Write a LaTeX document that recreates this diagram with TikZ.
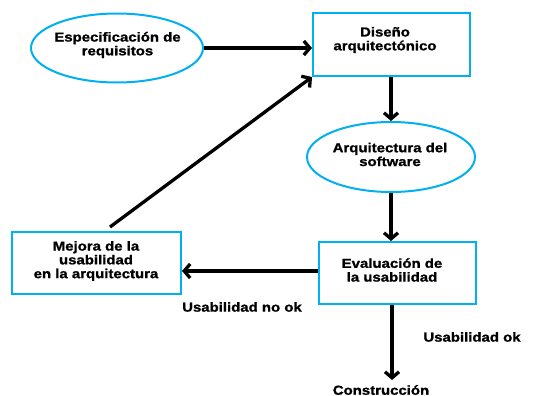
\documentclass[tikz,border=0pt]{standalone}
\usepackage{fontspec}
\setmainfont{Liberation Sans}[FakeStretch=1.15,FakeBold=1.2]
\usetikzlibrary{shapes.geometric,arrows.meta}
\definecolor{frame}{RGB}{0,176,240}
\tikzset{
  shapeline/.style={draw=frame, line width=2pt, inner sep=0pt},
  oval/.style={shapeline, ellipse},
  box/.style={shapeline, rectangle},
  txt/.style={align=center, inner sep=0pt, font=\fontsize{13}{13.8}\selectfont\bfseries},
  flow/.style={line width=3.3pt, -{Straight Barb[length=6pt,width=14pt]}},
}
\begin{document}
\begin{tikzpicture}[x=1pt, y=-1pt]
  \useasboundingbox[fill=white] (0,0) rectangle (546,396);

  % shapes
  \node[oval, minimum width=172pt, minimum height=69pt] (spec) at (117,48) {};
  \node[box, minimum width=157pt, minimum height=63pt] (dis) at (391.5,44.5) {};
  \node[oval, minimum width=168pt, minimum height=70pt] (arq) at (391,157) {};
  \node[box, minimum width=157pt, minimum height=62pt] (eval) at (397.5,273) {};
  \node[box, minimum width=169pt, minimum height=62pt] (mej) at (96.5,263) {};

  % texts
  \node[txt] (specT) at (117.5,45) {Especificación de\\requisitos};
  \node[txt] (disT) at (385,40) {Diseño\\arquitectónico};
  \node[txt] (arqT) at (390,154.5) {Arquitectura del\\software};
  \node[txt] (evalT) at (392,270) {Evaluación de\\la usabilidad};
  \node[txt] (mejT) at (96,261) {Mejora de la\\usabilidad\\en la arquitectura};
  \node[txt] (nook) at (242,307) {Usabilidad no ok};
  \node[txt] (ok) at (472,337) {Usabilidad ok};
  \node[txt, anchor=north] (cons) at (381,385) {Construcción};
  \coordinate (consIn) at (392,380);
  \coordinate (mejOut) at (110,227);

  % connectors
  \draw[flow] (spec.east |- 0,48) -- (dis.west |- 0,48);
  \draw[flow] (dis.south -| arq.north) -- (arq.north);
  \draw[flow] (arq.south) -- (eval.north -| arq.south);
  \draw[flow] (eval.west |- 0,271) -- (mej.east |- 0,271);
  \draw[flow] (eval.south -| consIn) -- (consIn);
  \draw[flow] (mejOut) -- (dis.south west);
\end{tikzpicture}
\end{document}
